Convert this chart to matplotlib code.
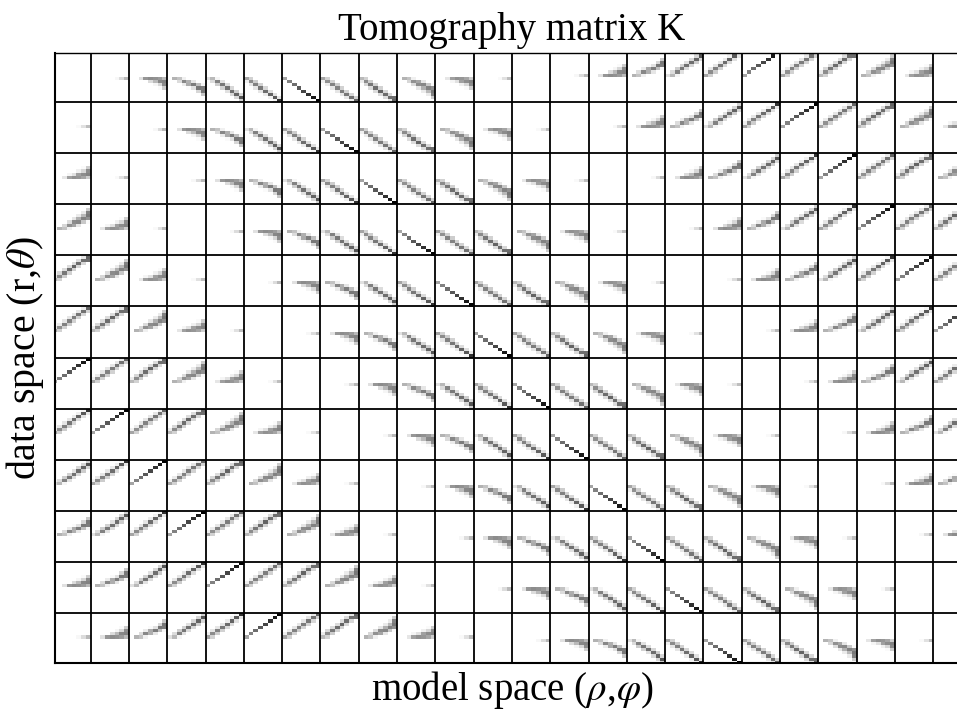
import numpy as np
import matplotlib
matplotlib.use("Agg")
import matplotlib.pyplot as plt

plt.rcParams['font.family'] = ['Liberation Serif', 'DejaVu Serif']
plt.rcParams['mathtext.fontset'] = 'stix'

TITLE = "Tomography matrix K"
XLABEL = r"model space ($\rho$,$\varphi$)"
YLABEL = r"data space (r,$\theta$)"

N_DATA_BLOCKS = 12     # data-space blocks (rows)
N_MODEL_BLOCKS = 24    # model-space blocks (columns)
BLOCK_H = 16           # matrix rows per block
BLOCK_W = 8            # matrix columns per block

# Darkness (0 white .. 255 black) of the lower 8 x 8 part of a block, read from
# the picture, by block distance from the main diagonal of the matrix.
d01 = [[0,0,0,0,0,8,35,70]]
d02 = [[0,0,30,105,115,110,100,70],
       [0,0,0,0,35,70,120,125],
       [0,0,0,0,0,10,40,115],
       [0,0,0,0,0,0,5,50]]
d03 = [[0,75,60,15,0,0,0,0],
       [0,0,35,120,80,25,0,0],
       [0,0,0,20,85,130,65,10],
       [0,0,0,0,5,30,135,130],
       [0,0,0,0,0,0,40,135],
       [0,0,0,0,0,0,0,55]]
d04 = [[30,70,10,0,0,0,0,0],
       [0,35,125,30,0,0,0,0],
       [0,0,50,135,35,0,0,0],
       [0,0,0,45,140,40,0,0],
       [0,0,0,0,30,145,50,0],
       [0,0,0,0,0,40,155,40],
       [0,0,0,0,0,0,40,170],
       [0,0,0,0,0,0,0,45]]
d05 = [[90,45,0,0,0,0,0,0],
       [15,115,50,0,0,0,0,0],
       [0,25,125,45,0,0,0,0],
       [0,0,25,135,40,0,0,0],
       [0,0,0,25,145,35,0,0],
       [0,0,0,0,20,155,30,0],
       [0,0,0,0,0,15,165,25],
       [0,0,0,0,0,0,10,205]]
d06 = [[90,0,0,0,0,0,0,0],
       [0,125,0,0,0,0,0,0],
       [0,0,145,0,0,0,0,0],
       [0,0,0,165,0,0,0,0],
       [0,0,0,0,185,0,0,0],
       [0,0,0,0,0,205,0,0],
       [0,0,0,0,0,0,230,0],
       [0,0,0,0,0,0,0,255]]
d07 = [[90,45,0,0,0,0,0,0],
       [15,110,45,0,0,0,0,0],
       [0,20,125,50,0,0,0,0],
       [0,0,25,125,45,0,0,0],
       [0,0,0,25,130,45,0,0],
       [0,0,0,0,25,135,40,0],
       [0,0,0,0,0,25,140,45],
       [0,0,0,0,0,0,20,155]]
d08 = [[70,45,0,0,0,0,0,0],
       [20,115,50,0,0,0,0,0],
       [0,40,135,45,0,0,0,0],
       [0,0,35,145,45,0,0,0],
       [0,0,0,35,155,40,0,0],
       [0,0,0,0,35,145,40,0],
       [0,0,0,0,0,35,145,145],
       [0,0,0,0,0,0,25,155]]
d09 = [[0,75,60,15,0,0,0,0],
       [0,0,40,110,90,25,0,0],
       [0,0,0,35,115,120,55,5],
       [0,0,0,0,25,80,125,110],
       [0,0,0,0,0,20,70,135],
       [0,0,0,0,0,0,20,125],
       [0,0,0,0,0,0,0,50]]
d10 = [[0,0,25,95,110,105,90,50],
       [0,0,0,10,30,95,115,125],
       [0,0,0,0,0,15,40,115],
       [0,0,0,0,0,0,5,50]]
d11 = [[0,0,0,0,0,6,30,65]]
DESCENDING = [d01, d02, d03, d04, d05, d06, d07, d08, d09, d10, d11]


def block(distance):
    """16 x 8 block for a block distance from the diagonal (0-23)."""
    cell = np.zeros((BLOCK_H, BLOCK_W))
    if distance in (0, 12):
        return cell
    rows = np.array(DESCENDING[distance % 12 - 1], dtype=float)
    lower = np.zeros((BLOCK_W, BLOCK_W))
    lower[:len(rows)] = rows
    if distance < 12:
        cell[BLOCK_W:] = lower
    else:
        cell[:BLOCK_W] = lower[::-1]
    return cell


K = np.block([[block((c - r) % N_MODEL_BLOCKS) for c in range(N_MODEL_BLOCKS)]
              for r in range(N_DATA_BLOCKS)])

W, H = 957, 711
fig = plt.figure(figsize=(W / 100, H / 100), dpi=100, facecolor='white')

# Axes frame in figure pixels; the right side of the matrix runs off the figure.
left, right, top, bottom = 55.0, 957.0, 53.0, 662.7
ax = fig.add_axes([left / W, 1 - bottom / H, (right - left) / W, (bottom - top) / H])

px_w, px_h = 38.3 / BLOCK_W, 51.04 / BLOCK_H
x0, y0 = 52.4, 51.26
ax.imshow(K, cmap='gray_r', vmin=0, vmax=255, interpolation='nearest', aspect='auto',
          extent=(0, K.shape[1], K.shape[0], 0))
ax.set_xlim((left - x0) / px_w, (right - x0) / px_w)
ax.set_ylim((bottom - y0) / px_h, (top - y0) / px_h)

for c in range(1, N_MODEL_BLOCKS):
    ax.axvline(c * BLOCK_W, color='black', lw=1.3)
for r in range(1, N_DATA_BLOCKS):
    ax.axhline(r * BLOCK_H, color='black', lw=1.3)

ax.set_xticks([])
ax.set_yticks([])
ax.spines['right'].set_visible(False)
ax.spines['left'].set_linewidth(1.5)
ax.spines['bottom'].set_linewidth(1.5)
ax.spines['top'].set_linewidth(1.0)

fig.text(512 / W, 1 - 40 / H, TITLE, ha='center', va='baseline', fontsize=28, color='black')
fig.text(512 / W, 1 - 700 / H, XLABEL, ha='center', va='baseline', fontsize=28, color='black')
fig.text(35 / W, 1 - 358 / H, YLABEL, ha='center', va='baseline', rotation=90,
         rotation_mode='anchor', fontsize=28.7, color='black')

fig.savefig('out.png', dpi=100)
